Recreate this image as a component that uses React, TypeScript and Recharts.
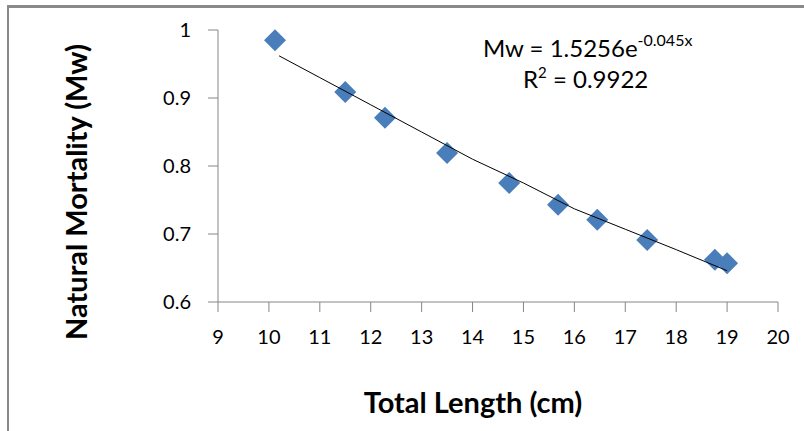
import { ScatterChart, Scatter, XAxis, YAxis, Customized } from "recharts";

const lengthCm = [10.12, 11.5, 12.28, 13.5, 14.72, 15.68, 16.45, 17.43, 18.76, 19.0];
const mortality = [0.985, 0.909, 0.871, 0.819, 0.775, 0.743, 0.721, 0.691, 0.662, 0.657];

// trendline
const trendX = [10.2, 11, 12, 13, 14, 15, 16, 17, 18, 19];
const trendY = [0.962, 0.93, 0.89, 0.85, 0.81, 0.775, 0.737, 0.707, 0.677, 0.646];

const xTicks = [9, 10, 11, 12, 13, 14, 15, 16, 17, 18, 19, 20];
const yTicks = [0.6, 0.7, 0.8, 0.9, 1];

const points = lengthCm.map((x, i) => ({ x, y: mortality[i] }));
const trend = trendX.map((x, i) => ({ x, y: trendY[i] }));

const FONT = "Lato, 'Open Sans', sans-serif";
const AXIS = "#868686";
const BLUE = "#4a7ebb";

const Diamond = (props: { cx?: number; cy?: number }) => {
  const { cx = 0, cy = 0 } = props;
  const r = 11;
  return (
    <polygon
      points={`${cx},${cy - r} ${cx + r},${cy} ${cx},${cy + r} ${cx - r},${cy}`}
      fill={BLUE}
    />
  );
};

const Texts = () => (
  <g fontFamily={FONT} fill="#000">
    <text x={483} y={57} fontSize={24}>
      Mw = 1.5256e
      <tspan dy={-11} fontSize={16}>-0.045x</tspan>
    </text>
    <text x={523} y={88} fontSize={24}>
      R
      <tspan dy={-10} fontSize={15}>2</tspan>
      <tspan dy={10}> = 0.9922</tspan>
    </text>
    <text
      x={473}
      y={401}
      fontSize={29}
      fontWeight="bold"
      textAnchor="middle"
      dominantBaseline="central"
    >
      Total Length (cm)
    </text>
    <text
      x={75}
      y={192}
      fontSize={29}
      fontWeight="bold"
      textAnchor="middle"
      dominantBaseline="central"
      transform="rotate(-90 75 192)"
    >
      Natural Mortality (Mw)
    </text>
  </g>
);

export default function App() {
  return (
    <div style={{ position: "absolute", left: 0, top: 0, width: 804, height: 431, background: "#fff" }}>
      <div style={{ position: "absolute", left: 7, top: 5, width: 797, height: 2.5, background: "#8a8a8a" }} />
      <div style={{ position: "absolute", left: 7, top: 5, width: 2, height: 426, background: "#8a8a8a" }} />
      <ScatterChart
        width={804}
        height={431}
        margin={{ top: 30, right: 26, bottom: 99, left: 158 }}
      >
        <XAxis
          type="number"
          dataKey="x"
          domain={[9, 20]}
          ticks={xTicks}
          interval={0}
          height={30}
          axisLine={{ stroke: AXIS }}
          tickLine={{ stroke: AXIS }}
          tickSize={10}
          tickMargin={18}
          tick={{ fill: "#000", fontSize: 20, fontFamily: FONT }}
        />
        <YAxis
          type="number"
          dataKey="y"
          domain={[0.6, 1]}
          ticks={yTicks}
          interval={0}
          width={60}
          axisLine={{ stroke: AXIS }}
          tickLine={{ stroke: AXIS }}
          tickSize={10}
          tickMargin={17}
          tick={{ fill: "#000", fontSize: 20, fontFamily: FONT }}
        />
        <Scatter data={points} shape={<Diamond />} isAnimationActive={false} />
        <Scatter
          data={trend}
          line={{ stroke: "#000", strokeWidth: 1 }}
          lineType="joint"
          shape={() => <g />}
          isAnimationActive={false}
        />
        <Customized component={Texts} />
      </ScatterChart>
    </div>
  );
}
